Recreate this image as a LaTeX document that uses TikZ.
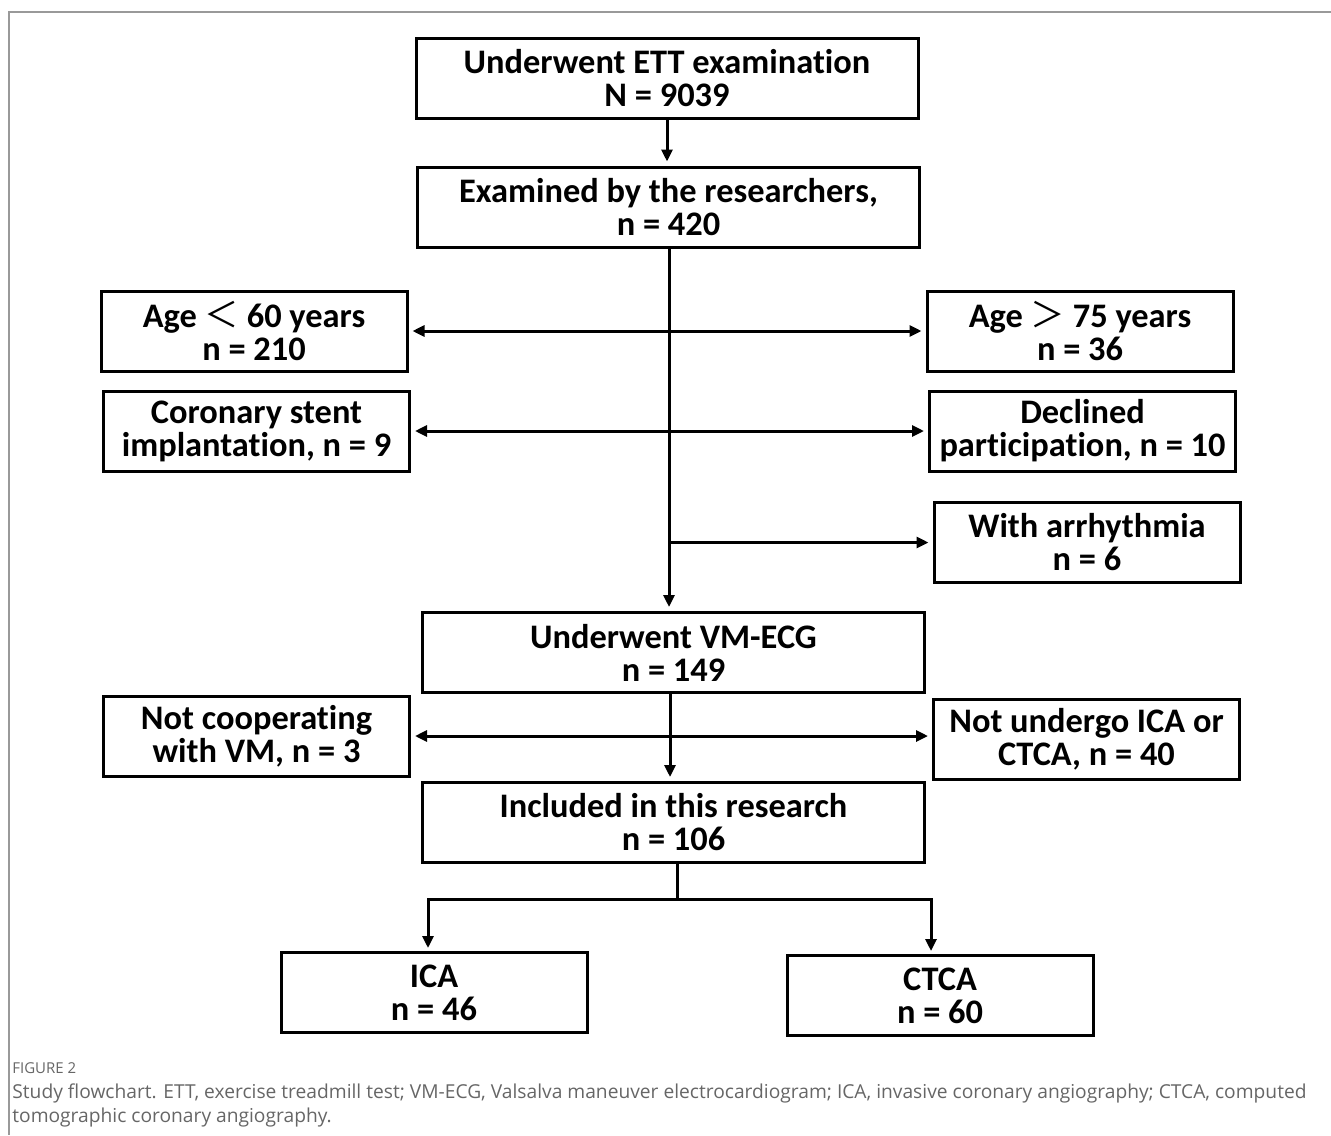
\documentclass[tikz,border=0pt]{standalone}
\usepackage{fontspec}
\setmainfont{Carlito}[Ligatures=NoCommon]
\newfontfamily\cjk{Noto Sans CJK SC}
\newfontfamily\capfont{Open Sans}
\usepackage{tikz}
\usetikzlibrary{positioning,arrows.meta,calc}

\tikzset{
  mainbox/.style={draw, line width=1.5pt, minimum width=251pt, minimum height=40pt,
    inner sep=0pt, align=center, font=\bfseries\fontsize{17.2}{16.5}\selectfont},
  sidebox/.style={mainbox, minimum width=153pt},
  arrow/.style={line width=1.5pt, -{Triangle[length=6pt,width=5.5pt]}, shorten >=2pt},
  link/.style={line width=1.5pt}
}

\begin{document}
\begin{tikzpicture}[x=0.5pt, y=-0.5pt]
\useasboundingbox (0,0) rectangle (1331,1135);
% frame
\draw[black!40, line width=0.8pt] (1331,12) -- (9,12) -- (9,1135);
% main column
\node[mainbox] (ett)   at (667,78.5)  {Underwent ETT examination\\N = 9039};
\node[mainbox] (exam)  at (668.5,207) {Examined by the researchers,\\n = 420};
\node[mainbox] (vm)    at (673.5,652.5) {Underwent VM-ECG\\n = 149};
\node[mainbox] (incl)  at (673.5,822.5) {Included in this research\\n = 106};
% exclusions
\node[sidebox] (age60)    at (254,331)    {Age {\cjk\mdseries ＜} 60 years\\n = 210};
\node[sidebox] (age75)    at (1080,331)   {Age {\cjk\mdseries ＞} 75 years\\n = 36};
\node[sidebox] (stent)    at (256.5,431)  {Coronary stent\\implantation, n = 9};
\node[sidebox] (declined) at (1082.5,431) {Declined\\participation, n = 10};
\node[sidebox] (arrhy)    at (1087,542.5) {With arrhythmia\\n = 6};
\node[sidebox] (notcoop)  at (256.5,736)  {Not cooperating\\with VM, n = 3};
\node[sidebox] (notund)   at (1086.5,739) {Not undergo ICA or\\CTCA, n = 40};
% groups
\node[sidebox] (ica)  at (434,992.5) {ICA\\n = 46};
\node[sidebox] (ctca) at (940,995.5) {CTCA\\n = 60};
% connectors
\draw[arrow] (ett.south) -- (ett.south |- exam.north);
\coordinate (spine) at (669,0);
\draw[arrow] (spine |- exam.south) -- (spine |- vm.north);
\foreach \b in {age60,stent} \draw[arrow] (spine |- \b.east) -- (\b.east);
\foreach \b in {age75,declined,arrhy} \draw[arrow] (spine |- \b.west) -- (\b.west);
\coordinate (spine2) at (670,0);
\draw[arrow] (spine2 |- vm.south) -- (spine2 |- incl.north);
\draw[arrow] (spine2 |- notcoop.east) -- (notcoop.east);
\draw[arrow] (spine2 |- notcoop.east) -- (notund.west |- notcoop.east);
\coordinate (split) at ($(incl.south)+(3.5,35)$);
\draw[link] (incl.south -| split) -- (split);
\draw[arrow] (split) -| (428,952);
\draw[arrow] (split) -| (931,955);
% caption
\node[anchor=west, inner sep=0pt, black!60, font=\capfont\fontsize{7.5}{9}\selectfont] (fig) at (12,1068) {FIGURE 2};
\node[anchor=north west, inner sep=0pt, align=left, black!60, font=\capfont\fontsize{9.6}{12}\selectfont] (cap) at (12,1083)
  {Study flowchart. ETT, exercise treadmill test; VM-ECG, Valsalva maneuver electrocardiogram; ICA, invasive coronary angiography; CTCA, computed\\tomographic coronary angiography.};
\end{tikzpicture}
\end{document}
